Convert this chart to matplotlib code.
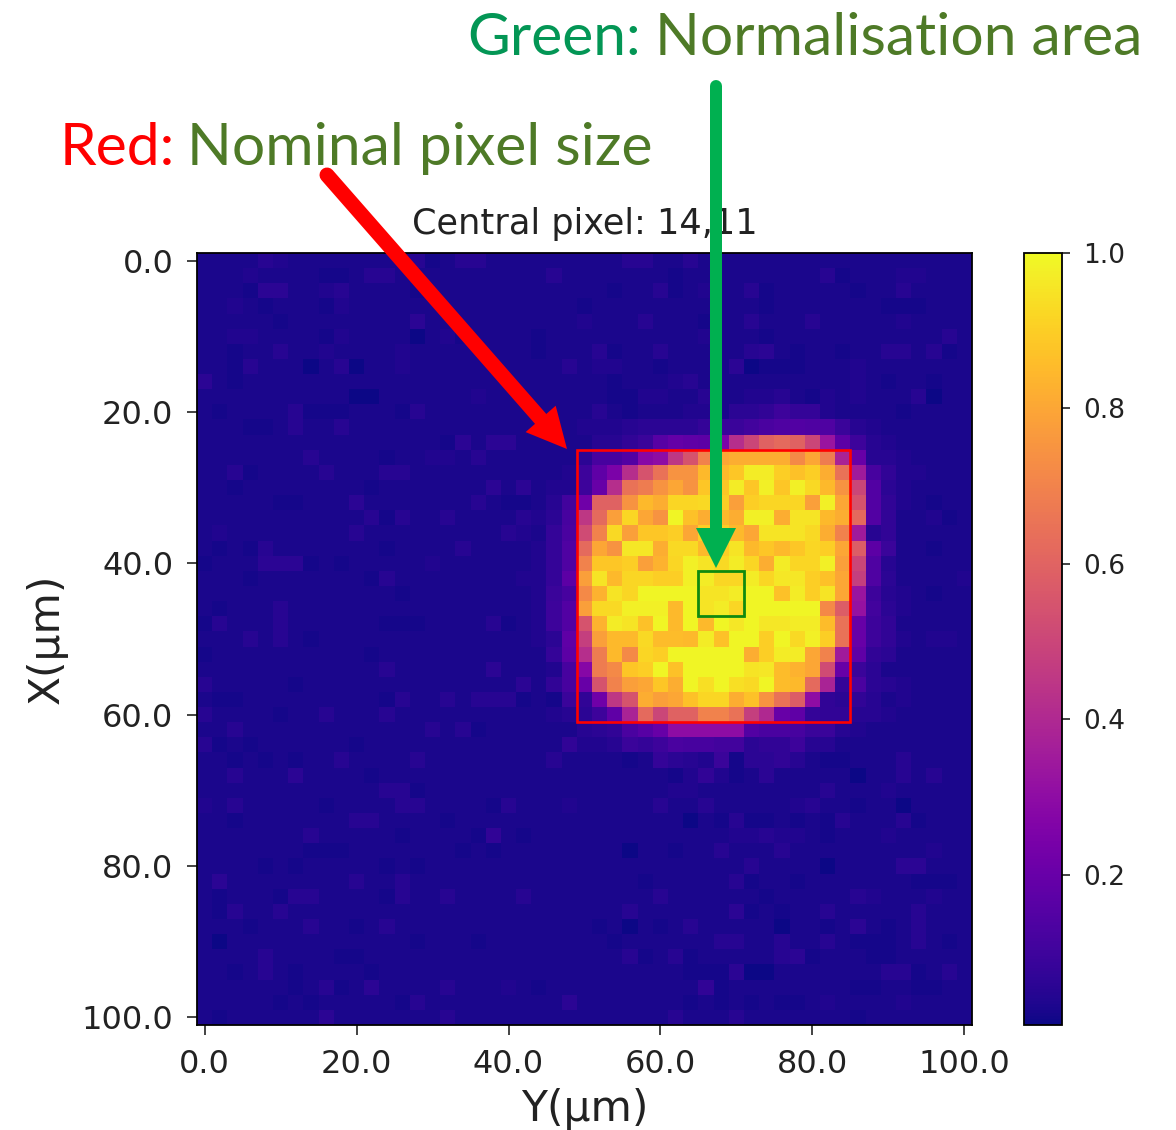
import numpy as np
from matplotlib import pyplot as plt
from matplotlib.lines import Line2D
from matplotlib.patches import Polygon, Rectangle

W, H = 1176, 1130

# detector response in percent, read cell by cell (rows X, columns Y, 2 um steps)
response_pct = [
    [3,3,3,3,5,4,3,3,3,3,3,3,3,3,5,2,3,5,5,3,3,3,3,3,3,3,3,3,5,5,3,3,5,3,3,3,3,3,3,3,3,3,3,3,3,3,3,3,3,3,3],
    [3,3,3,4,3,3,3,3,2,2,3,5,5,3,3,3,3,3,3,3,3,3,3,5,3,3,3,3,3,3,3,2,3,3,3,3,3,3,3,3,3,5,2,3,3,3,4,4,3,3,3],
    [3,3,3,2,6,6,3,3,4,5,3,3,3,3,2,3,3,3,3,3,3,3,3,3,3,3,3,2,3,3,5,2,3,4,3,3,5,2,3,3,3,3,3,2,3,3,5,3,3,3,3],
    [3,3,4,3,2,3,3,3,2,4,3,3,3,3,3,3,3,3,3,3,3,3,3,3,3,2,3,3,3,3,3,3,3,3,3,3,3,2,3,3,3,3,3,3,3,2,2,2,3,3,3],
    [3,3,3,3,3,2,3,3,3,3,3,3,3,3,6,3,3,3,3,3,3,3,3,3,3,4,3,3,3,5,3,3,3,2,3,3,5,3,3,3,5,3,3,3,3,3,4,3,3,3,3],
    [3,3,4,4,3,3,3,3,2,4,3,3,3,3,1,3,4,2,3,3,3,3,2,3,3,3,3,3,3,3,3,3,3,4,3,3,3,2,3,3,3,3,3,3,3,3,3,3,3,5,3],
    [3,3,2,3,3,5,3,3,4,3,3,3,3,4,3,3,3,3,3,3,3,3,2,3,3,3,5,2,3,3,5,3,3,3,3,3,5,6,3,2,3,3,2,3,3,5,5,3,5,2,3],
    [3,3,2,5,3,3,3,1,3,5,1,3,3,4,3,3,3,3,3,3,3,3,3,3,5,3,4,4,3,3,2,3,3,3,3,6,1,2,2,2,3,3,3,4,3,3,3,3,3,3,3],
    [6,3,2,3,3,3,3,3,3,3,3,3,3,3,3,3,3,3,3,3,3,3,3,3,3,3,3,2,3,3,3,4,5,3,3,3,3,3,3,3,3,3,3,4,3,2,3,3,2,3,3],
    [3,3,3,3,3,3,3,3,3,3,1,1,3,3,3,3,3,3,4,3,3,3,3,3,3,3,3,2,2,4,4,3,3,5,3,3,4,4,5,3,2,4,3,4,3,3,3,5,1,3,3],
    [3,2,3,3,3,3,5,2,2,2,3,3,3,2,5,3,3,3,3,3,3,3,3,3,3,3,5,3,2,3,3,3,4,4,3,6,6,7,10,8,8,4,3,3,3,3,2,3,3,3,3],
    [3,3,3,2,2,3,5,3,3,5,3,3,3,3,3,3,3,3,3,3,3,3,3,3,3,4,4,4,5,6,6,6,6,8,9,9,11,13,14,15,14,14,9,5,4,3,3,3,3,3,3],
    [3,3,3,3,3,3,3,3,3,3,3,3,3,3,3,3,2,6,3,6,6,3,3,3,3,3,5,5,7,9,16,19,18,17,25,42,50,60,62,60,50,33,17,10,5,4,3,3,3,3,3],
    [3,3,3,3,3,3,3,5,3,3,3,3,2,3,3,4,4,3,5,3,3,3,3,3,3,6,12,12,15,28,30,45,55,70,80,82,82,82,82,72,80,68,38,20,5,5,4,3,3,3,3],
    [3,3,5,2,3,3,3,3,5,3,3,3,5,5,3,3,3,3,3,3,3,3,3,3,4,10,18,25,42,55,65,75,75,85,85,88,97,97,90,87,90,82,65,35,12,7,4,4,3,3,3],
    [3,3,2,3,3,3,3,3,3,3,3,2,3,3,3,3,3,3,3,6,3,6,3,4,4,10,20,42,65,68,75,80,75,88,88,97,88,98,88,98,93,85,75,50,15,6,4,3,3,3,3],
    [3,3,3,3,3,2,2,3,3,3,6,3,3,3,3,3,3,3,5,3,2,2,3,5,11,22,60,60,75,85,82,92,92,93,90,78,90,92,92,92,78,98,80,55,15,7,4,3,2,3,3],
    [3,3,3,3,3,3,3,3,3,3,3,5,2,5,3,3,5,3,3,3,3,5,4,6,12,45,62,78,92,80,75,99,87,82,85,82,98,98,82,95,95,85,82,62,15,7,3,3,4,2,3],
    [3,4,3,3,3,3,3,3,3,3,5,3,3,3,3,3,3,3,3,3,5,4,3,8,13,52,70,93,78,88,88,90,80,90,90,85,80,95,95,95,93,82,70,35,5,7,3,3,3,3,3],
    [3,2,3,2,5,3,3,3,3,3,3,3,2,3,3,3,3,5,3,3,3,3,4,8,14,62,80,75,96,96,82,93,93,85,90,95,85,88,85,88,92,90,80,58,17,9,3,3,2,3,3],
    [2,3,3,3,6,6,6,2,3,2,3,3,3,3,3,4,3,3,3,3,3,3,4,8,14,70,88,88,90,78,83,92,98,95,93,97,92,82,97,92,92,98,78,50,14,5,3,3,3,3,3],
    [3,3,3,2,3,3,3,3,3,3,3,2,5,3,3,3,3,3,3,3,3,4,4,8,17,78,95,85,92,92,90,90,98,97,92,92,97,92,96,96,90,87,80,48,14,6,3,3,3,3,4],
    [3,3,3,3,3,3,3,3,3,3,3,3,3,2,3,3,3,3,3,3,3,3,4,9,12,72,83,95,92,99,99,99,99,95,95,97,99,99,87,97,90,95,80,33,10,5,4,3,2,3,3],
    [3,2,3,3,3,5,3,3,3,3,3,3,3,3,3,3,3,3,3,3,3,3,4,10,15,78,93,93,98,98,98,85,99,95,97,92,99,99,99,99,99,72,58,32,11,6,4,3,3,3,3],
    [2,5,3,3,3,5,3,3,3,3,3,3,2,2,2,3,3,3,3,5,2,3,4,10,15,55,83,97,95,87,99,85,99,85,99,96,99,96,96,97,97,86,65,20,10,7,3,3,3,3,3],
    [3,3,3,5,3,5,3,2,3,3,3,3,3,3,3,3,3,3,3,3,3,3,4,6,18,48,78,85,85,93,86,86,85,97,87,99,99,90,99,93,98,90,65,20,10,7,4,3,4,4,3],
    [2,3,3,3,3,3,3,3,3,3,3,2,3,3,3,3,3,3,3,3,3,3,3,8,17,42,68,85,72,92,90,99,99,99,99,99,82,90,97,97,80,70,35,18,7,6,3,3,3,3,3],
    [3,3,3,3,3,3,3,3,3,3,3,3,5,3,3,3,3,3,3,6,3,3,3,4,12,28,68,72,88,90,99,87,99,99,99,99,95,96,86,83,80,52,20,9,6,3,3,3,3,3,3],
    [5,3,3,3,3,3,2,3,3,3,3,3,3,3,3,3,3,3,3,3,3,6,3,7,12,20,55,70,78,80,88,82,99,94,99,94,93,99,86,85,62,38,8,13,6,5,4,3,3,3,3],
    [3,2,2,3,3,3,3,3,3,3,3,3,2,5,3,3,5,3,5,5,5,2,3,2,9,7,22,45,55,82,78,80,87,92,92,82,87,75,65,58,30,7,6,7,5,3,4,3,3,3,3],
    [5,3,3,3,3,2,3,3,5,3,3,3,5,3,3,3,3,3,3,3,3,3,3,4,5,6,10,18,38,62,50,60,60,70,70,65,48,40,20,18,8,7,7,5,5,4,3,3,3,3,3],
    [3,3,5,3,3,3,3,3,3,3,3,3,3,3,3,5,3,5,2,3,3,3,3,3,3,5,6,7,13,16,20,30,30,30,30,30,15,13,13,12,9,9,5,4,3,3,3,3,3,3,3],
    [5,2,3,2,3,3,3,3,3,3,2,3,3,3,3,3,3,3,3,3,3,3,3,3,7,4,4,5,9,8,10,13,12,12,11,11,6,7,7,10,5,5,3,3,3,3,3,3,3,3,3],
    [3,3,2,3,2,3,2,3,3,5,3,3,3,3,5,3,3,3,3,3,3,3,3,5,3,3,3,3,2,3,8,6,5,4,9,2,6,6,7,5,3,2,2,3,3,3,5,3,3,3,3],
    [3,3,5,3,3,3,6,3,3,3,3,2,3,3,3,3,3,3,3,3,3,3,3,3,3,3,3,3,3,3,3,2,4,7,4,2,3,6,3,3,3,3,3,1,3,3,5,3,5,3,3],
    [3,3,3,3,3,3,3,3,3,3,3,3,5,5,2,3,3,3,3,3,3,3,3,3,3,3,3,3,3,3,3,4,4,3,3,3,3,3,3,3,3,5,3,3,3,4,3,3,3,3,3],
    [4,3,5,3,3,3,3,3,2,3,3,3,3,5,5,3,3,3,3,2,5,3,3,3,4,3,3,3,3,3,5,3,3,5,3,3,3,3,3,4,5,3,3,2,3,3,1,3,3,3,3],
    [3,3,2,3,3,3,3,3,3,3,5,5,3,3,3,3,2,3,3,3,3,3,3,3,3,3,3,3,3,3,3,3,1,3,2,5,2,2,3,2,3,2,5,3,3,3,5,2,3,3,3],
    [3,3,3,3,3,3,3,5,3,3,3,3,3,2,3,3,3,3,2,7,3,2,3,3,3,3,3,3,3,3,3,3,3,3,3,4,4,5,4,4,3,2,3,3,3,4,3,3,3,3,3],
    [3,3,3,3,3,3,3,2,2,2,3,3,3,3,3,3,3,2,3,2,3,3,3,3,3,3,3,3,1,3,3,2,3,3,5,3,3,3,5,3,3,3,3,3,3,3,3,3,4,3,3],
    [3,3,3,3,2,3,2,3,3,3,3,3,2,3,2,3,3,3,3,3,3,3,3,3,3,3,3,3,3,3,3,3,3,3,3,3,5,3,3,3,3,1,3,3,3,3,6,6,3,3,3],
    [3,6,3,3,3,3,3,3,3,3,5,3,3,5,3,3,3,3,3,3,3,3,3,3,3,3,3,3,3,2,3,3,3,3,3,5,2,3,3,2,3,3,3,3,3,3,3,2,2,2,3],
    [3,2,3,3,3,2,5,5,3,3,3,3,2,5,3,3,5,3,3,3,3,5,3,3,3,3,3,3,3,3,5,3,3,3,3,3,3,2,3,3,3,3,3,5,4,3,3,3,4,3,3],
    [3,2,5,3,3,5,3,3,3,3,3,3,3,3,3,3,3,3,3,3,3,3,3,3,3,3,3,3,5,3,3,3,3,3,3,6,2,3,2,3,3,5,3,3,3,3,3,5,3,3,3],
    [3,3,3,2,3,3,3,5,3,3,2,3,5,3,3,3,3,3,3,3,3,3,3,3,3,3,2,3,1,3,2,3,5,3,3,3,3,3,1,3,3,2,3,6,3,2,3,5,3,3,3],
    [3,1,3,3,3,3,3,3,3,3,3,3,3,3,2,3,3,3,2,3,3,3,3,3,3,3,3,2,3,3,3,3,3,3,5,5,3,3,5,3,3,5,3,2,2,2,3,5,3,2,3],
    [3,3,3,3,5,3,3,3,3,2,2,3,3,3,3,3,3,3,3,3,3,3,3,3,3,3,3,3,5,2,3,5,2,3,3,3,3,3,5,6,2,3,3,3,2,2,3,3,3,3,3],
    [3,3,2,3,5,3,2,3,3,3,3,2,3,3,3,3,3,3,3,3,3,3,3,3,3,3,3,3,3,3,3,3,2,2,2,6,1,1,3,3,3,3,3,3,3,5,5,2,3,5,3],
    [3,3,3,3,3,3,2,3,5,2,3,6,3,3,3,3,5,3,3,3,4,3,2,3,3,3,3,3,3,3,3,3,3,7,2,3,3,3,3,3,3,3,3,2,2,3,3,2,2,3,3],
    [3,3,3,3,3,2,3,2,3,3,3,3,3,2,5,3,3,3,3,3,3,3,3,3,6,3,3,3,3,3,3,3,2,3,2,3,2,3,2,2,3,4,3,3,3,3,4,3,3,3,3],
    [3,2,3,3,3,3,3,3,6,3,3,3,3,3,3,3,5,3,3,3,3,3,3,3,3,3,3,3,3,3,3,5,3,3,3,5,3,3,3,3,3,3,3,2,3,3,3,3,3,3,3],
]

axis_ticks = [0, 20, 40, 60, 80, 100]
cbar_ticks = [0.2, 0.4, 0.6, 0.8, 1.0]

# um: left, top, right, bottom
nominal_box = (49, 25, 85, 61)
norm_box = (65, 41, 71, 47)


def box(ax, lims, colour, lw):
    x0, y0, x1, y1 = lims
    ax.add_patch(Rectangle((x0, y0), x1 - x0, y1 - y0, fill=False, edgecolor=colour, linewidth=lw))


def px(x, y):
    """figure pixels (from top left) to figure fraction"""
    return x / W, 1 - y / H


def arrow(fig, start, tip, colour, shaft, head_w, head_l):
    start = np.array(start, float)
    tip = np.array(tip, float)
    d = (tip - start) / np.linalg.norm(tip - start)
    n = np.array([-d[1], d[0]])
    base = tip - d * head_l
    xs, ys = zip(*[px(*start), px(*base)])
    fig.add_artist(Line2D(xs, ys, color=colour, linewidth=shaft * 0.72,
                          solid_capstyle="round", zorder=10))
    corners = [px(*tip), px(*(base + n * head_w / 2)), px(*(base - n * head_w / 2))]
    fig.add_artist(Polygon(corners, closed=True, color=colour, linewidth=0, zorder=10,
                           transform=fig.transFigure))


if __name__ == "__main__":
    response = np.array(response_pct) / 100

    fig = plt.figure(figsize=(W / 100, H / 100), dpi=100)
    ax = fig.add_axes([197 / W, 1 - 1025 / H, 775 / W, 772 / H])
    im = ax.imshow(response, cmap="plasma", vmin=0.007, vmax=1.0, extent=(-1, 101, 101, -1),
                   interpolation="nearest", aspect="auto")

    box(ax, nominal_box, "#ff0000", 1.9)
    box(ax, norm_box, "#0f8a0f", 2.0)

    ax.set_xticks(axis_ticks, ["%.1f" % t for t in axis_ticks])
    ax.set_yticks(axis_ticks, ["%.1f" % t for t in axis_ticks])
    ax.tick_params(labelsize=23, length=7, width=1.2, colors="#222222", pad=10)
    for s in ax.spines.values():
        s.set_linewidth(1.3)
    ax.set_title("Central pixel: 14,11", fontsize=25.3, color="#222222", pad=14)
    ax.set_xlabel("Y(\u00b5m)", fontsize=30.5, color="#222222", labelpad=6)
    ax.set_ylabel("X(\u00b5m)", fontsize=30.5, color="#222222", labelpad=10)

    cax = fig.add_axes([1024 / W, 1 - 1025 / H, 38 / W, 772 / H])
    cb = fig.colorbar(im, cax=cax)
    cb.set_ticks(cbar_ticks, labels=["%.1f" % t for t in cbar_ticks])
    cb.ax.tick_params(labelsize=19, length=6, width=1.2, colors="#222222", pad=9)
    cb.outline.set_linewidth(1.3)

    arrow(fig, (327, 175), (567, 449), "#ff0000", 15, 40, 40)
    arrow(fig, (716, 86), (716, 568), "#00b050", 12, 40, 40)

    for x, y, s, c in [(60, 165, "Red:", "#ff0000"),
                       (187, 165, "Nominal pixel size", "#4e7a27"),
                       (467, 55, "Green:", "#039655"),
                       (655, 55, "Normalisation area", "#4e7a27")]:
        fig.text(*px(x, y), s, color=c, fontsize=42.3, family="Lato", ha="left", va="baseline", zorder=11)

    fig.savefig("out.png", dpi=100)
